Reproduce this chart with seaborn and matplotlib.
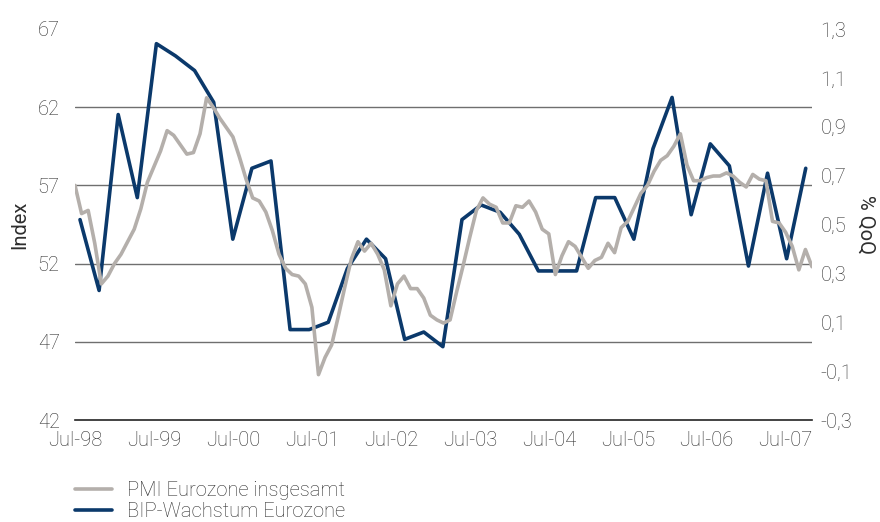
import numpy as np
import pandas as pd
import matplotlib
matplotlib.use("Agg")
import matplotlib.pyplot as plt
import seaborn as sns

# PMI Eurozone (monthly, Jul-98 .. Nov-07), index points
pmi_values = [
    57.0, 55.2, 55.4, 53.3, 50.7, 51.2, 52.0, 52.6, 53.4, 54.2,
    55.5, 57.2, 58.2, 59.2, 60.5, 60.2, 59.6, 59.0, 59.1, 60.3,
    62.6, 62.0, 61.3, 60.7, 60.1, 58.8, 57.4, 56.2, 56.0, 55.3,
    54.1, 52.6, 51.7, 51.3, 51.2, 50.7, 49.2, 44.9, 46.0, 46.8,
    48.6, 50.5, 52.3, 53.4, 52.8, 53.3, 52.6, 51.6, 49.3, 50.7,
    51.2, 50.4, 50.4, 49.8, 48.7, 48.4, 48.2, 48.4, 50.2, 51.9,
    53.7, 55.4, 56.2, 55.8, 55.6, 54.6, 54.6, 55.7, 55.6, 56.0,
    55.3, 54.2, 53.9, 51.3, 52.5, 53.4, 53.1, 52.4, 51.7, 52.2,
    52.4, 53.3, 52.7, 54.3, 54.7, 55.6, 56.5, 57.0, 57.9, 58.6,
    58.9, 59.5, 60.3, 58.3, 57.3, 57.3, 57.5, 57.6, 57.6, 57.8,
    57.6, 57.2, 56.9, 57.7, 57.4, 57.3, 54.7, 54.6, 54.0, 53.1,
    51.6, 52.9, 51.8,
]

# BIP-Wachstum Eurozone (quarterly), % QoQ
gdp_values = [
    0.52, 0.23, 0.95, 0.61, 1.24, 1.19, 1.13, 1.00, 0.44, 0.73,
    0.76, 0.07, 0.07, 0.10, 0.32, 0.44, 0.36, 0.03, 0.06, 0.00,
    0.52, 0.58, 0.55, 0.46, 0.31, 0.31, 0.31, 0.61, 0.61, 0.44,
    0.81, 1.02, 0.54, 0.83, 0.74, 0.33, 0.71, 0.36, 0.73,
]

x_tick_labels = ["Jul-98", "Jul-99", "Jul-00", "Jul-01", "Jul-02",
                 "Jul-03", "Jul-04", "Jul-05", "Jul-06", "Jul-07"]
left_ticks = [42, 47, 52, 57, 62, 67]
right_ticks = [-0.3, -0.1, 0.1, 0.3, 0.5, 0.7, 0.9, 1.1, 1.3]

pmi = pd.DataFrame({"month": np.arange(len(pmi_values)), "value": pmi_values})
# quarterly points spread over the same monthly axis
gdp = pd.DataFrame({
    "month": np.linspace(0.76, 111.05, len(gdp_values)),
    "value": gdp_values,
})

sns.set_theme(style="white")
plt.rcParams["font.family"] = ["Roboto", "DejaVu Sans"]
plt.rcParams["font.weight"] = "light"

GRAY = "#b4afab"
NAVY = "#0b396b"
TEXT = "#2e2e2e"
FS = 14.5

fig = plt.figure(figsize=(8.8, 5.22), dpi=100)
ax = fig.add_axes([75 / 880, 102 / 522, 737 / 880, 391 / 522])
ax2 = ax.twinx()
# PMI (left axis) drawn over the GDP line
ax.set_zorder(2)
ax2.set_zorder(1)
ax.patch.set_visible(False)

sns.lineplot(data=gdp, x="month", y="value", ax=ax2, color=NAVY,
             linewidth=2.6, label="BIP-Wachstum Eurozone", legend=False)
sns.lineplot(data=pmi, x="month", y="value", ax=ax, color=GRAY,
             linewidth=2.6, label="PMI Eurozone insgesamt", legend=False)

ax.set_xlim(0, 112)
ax.set_ylim(42, 67)
ax.set_yticks(left_ticks)
ax.set_xticks(np.arange(0, 12 * len(x_tick_labels), 12))
ax.set_xticklabels(x_tick_labels)
ax.set_xlabel("")
ax.set_ylabel("Index", fontsize=FS, color=TEXT, labelpad=6)

ax2.set_ylim(-0.3, 1.3)
ax2.set_yticks(right_ticks)
ax2.set_yticklabels([f"{v:.1f}".replace(".", ",") for v in right_ticks])
ax2.set_ylabel("% QoQ", fontsize=FS, color=TEXT, rotation=270,
               va="bottom", labelpad=3)

# horizontal grid at the index ticks, placed on the lower axis
grid_pos = [(v - 42) / 25 * 1.6 - 0.3 for v in left_ticks]
ax2.set_yticks(grid_pos, minor=True)
ax2.grid(False)
ax2.grid(which="minor", axis="y", color="#6f6f6f", linewidth=1.0)
ax.grid(False)

ax.tick_params(axis="both", length=0, labelsize=FS, labelcolor=TEXT)
ax.tick_params(axis="y", pad=11)
ax.tick_params(axis="x", pad=8)
ax2.tick_params(axis="y", which="both", length=0, labelsize=FS,
                labelcolor=TEXT, pad=6)

for a in (ax, ax2):
    for s in a.spines.values():
        s.set_visible(False)
ax.spines["bottom"].set_visible(True)
ax.spines["bottom"].set_color("#222222")
ax.spines["bottom"].set_linewidth(1.2)

h1, l1 = ax.get_legend_handles_labels()
h2, l2 = ax2.get_legend_handles_labels()
fig.legend(h1 + h2, l1 + l2, loc="upper left",
           bbox_to_anchor=(75 / 880, 1 - 481 / 522), frameon=False,
           fontsize=FS, labelcolor=TEXT, handlelength=1.85,
           handletextpad=0.75, labelspacing=0.1, borderpad=0,
           borderaxespad=0)

fig.savefig("out.png", dpi=100)
